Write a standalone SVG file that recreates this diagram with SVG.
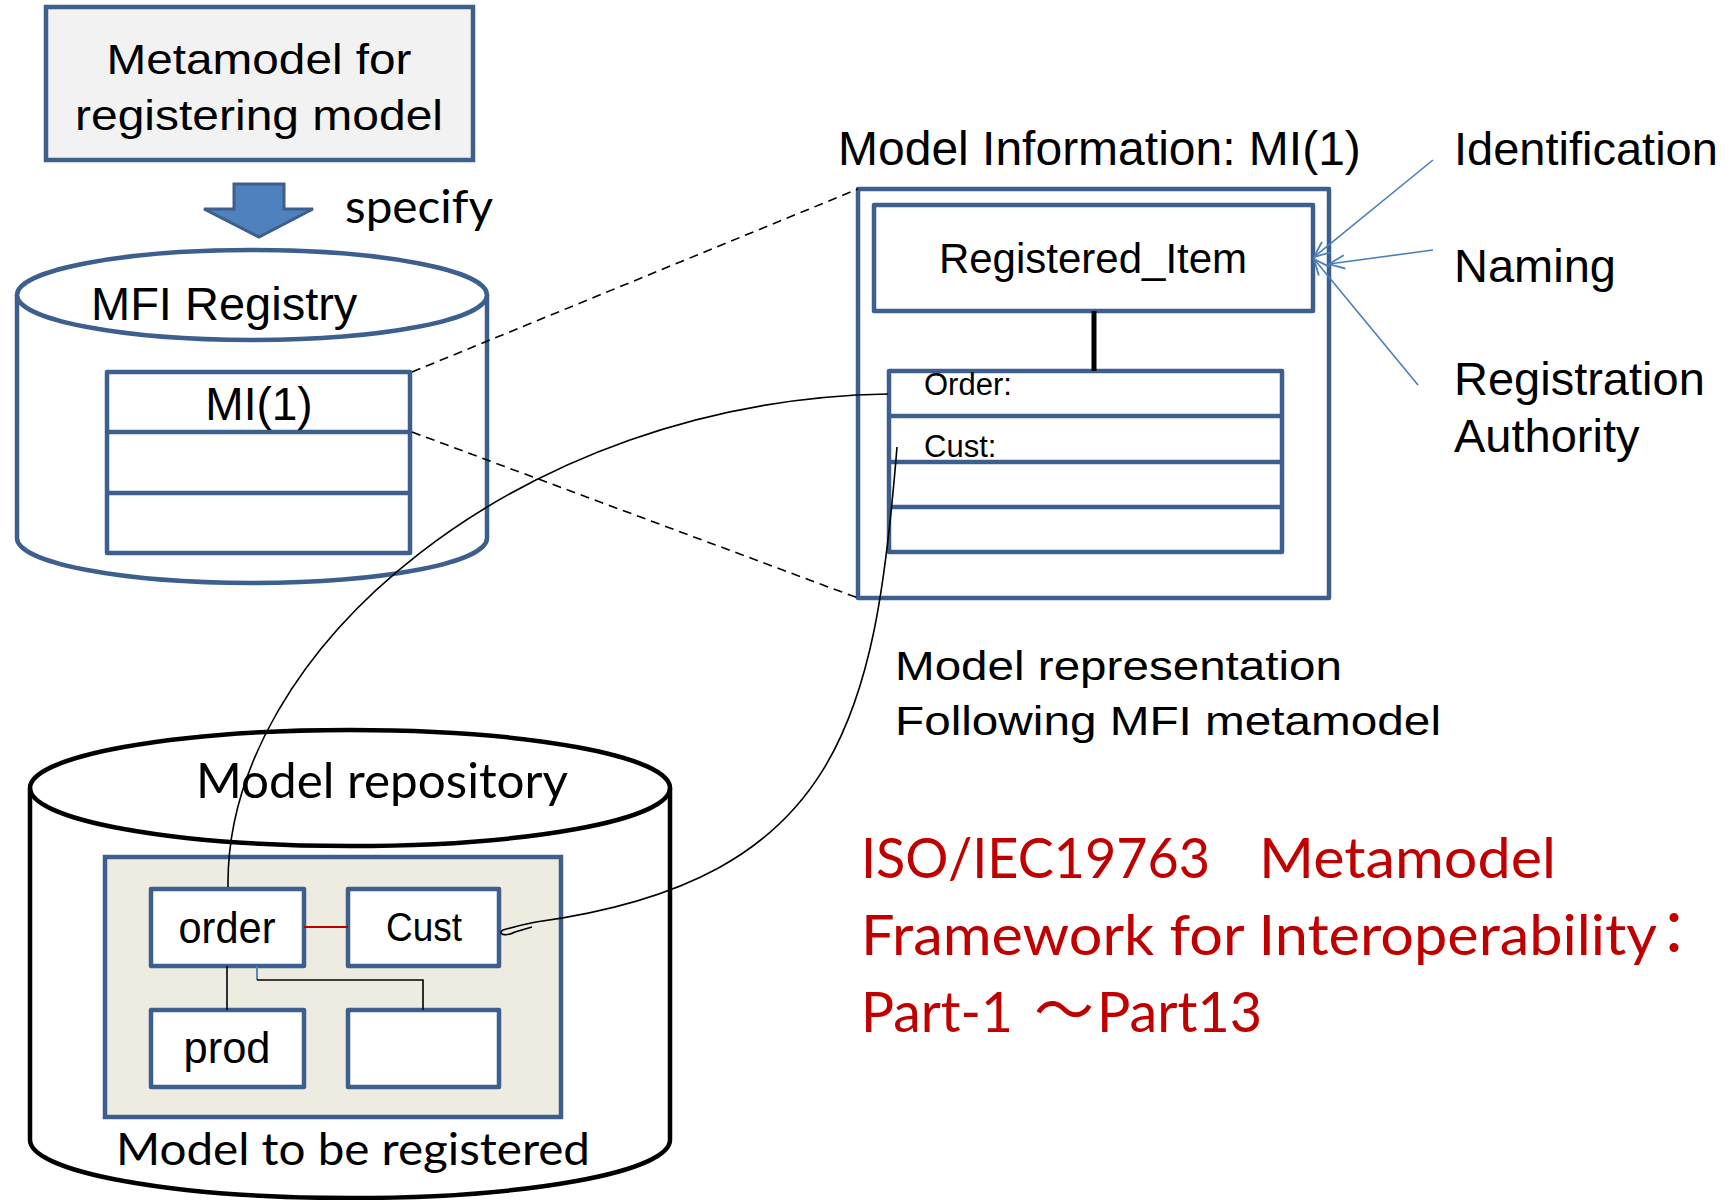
<svg xmlns="http://www.w3.org/2000/svg" width="1735" height="1200" viewBox="0 0 1735 1200">
<style>
.bl{stroke:#3c5f8e;stroke-width:4.5;fill:#ffffff;stroke-linejoin:round}
.ar{font-family:"Liberation Sans",Arial,sans-serif;fill:#000000}
.ca{font-family:Lato,"Noto Sans CJK JP",sans-serif;fill:#000000}
.red{font-family:Lato,"Noto Sans CJK JP",sans-serif;fill:#c00000;font-size:56px}
.cjk{font-family:"Noto Sans CJK JP",sans-serif;fill:#c00000;font-size:60px}
.mid{text-anchor:middle}
.bluearrow{stroke:#4a7ebb;stroke-width:1.6;fill:none;marker-end:url(#vhead)}
.thin{stroke:#000000;stroke-width:1.6;fill:none}
.dash{stroke:#000000;stroke-width:1.6;fill:none;stroke-dasharray:9 6}
</style>
<defs>
<marker id="vhead" markerUnits="userSpaceOnUse" markerWidth="18" markerHeight="18" viewBox="0 0 16 16" refX="15" refY="8" orient="auto">
<path d="M1,2 L15,8 L1,14" fill="none" stroke="#4a7ebb" stroke-width="1.6"/>
</marker>
</defs>
<rect width="1735" height="1200" fill="#ffffff"/>

<g id="metamodel-box">
<rect x="46" y="7" width="427" height="153" fill="#f2f2f2" stroke="#3c5f8e" stroke-width="4.5"/>
<text class="ar mid" x="259" y="74" font-size="42" textLength="305" lengthAdjust="spacingAndGlyphs">Metamodel for</text>
<text class="ar mid" x="259" y="130" font-size="42" textLength="368" lengthAdjust="spacingAndGlyphs">registering model</text>
</g>

<g id="specify-arrow">
<polygon points="234,184 284,184 284,209 313,209 259,237 204,209 234,209" fill="#4f81bd" stroke="#3c5f8e" stroke-width="3" stroke-linejoin="miter"/>
<text class="ca" x="345" y="223" font-size="47" textLength="148" lengthAdjust="spacingAndGlyphs">specify</text>
</g>

<g id="mfi-registry">
<path class="bl" d="M17,295 A235,45 0 0,1 487,295 L487,538 A235,45 0 0,1 17,538 Z"/>
<path class="bl" d="M17,295 A235,45 0 0,0 487,295" fill="none"/>
<text class="ar" x="91" y="320" font-size="47">MFI Registry</text>
</g>

<g id="mi1-record">
<rect class="bl" x="107" y="372" width="303" height="181"/>
<line class="bl" x1="107" y1="432" x2="410" y2="432"/>
<line class="bl" x1="107" y1="493" x2="410" y2="493"/>
<text class="ar mid" x="259" y="420" font-size="46">MI(1)</text>
</g>

<g id="model-information">
<text class="ar" x="838" y="165" font-size="48">Model Information: MI(1)</text>
<rect class="bl" x="858" y="189" width="471" height="409"/>
</g>

<g id="registered-item">
<rect class="bl" x="874" y="205" width="439" height="106"/>
<text class="ar mid" x="1093" y="273" font-size="42">Registered_Item</text>
</g>

<g id="model-class">
<rect class="bl" x="889" y="371" width="393" height="181"/>
<line class="bl" x1="889" y1="416" x2="1282" y2="416"/>
<line class="bl" x1="889" y1="462" x2="1282" y2="462"/>
<line class="bl" x1="889" y1="507" x2="1282" y2="507"/>
<text class="ar" x="924" y="395" font-size="31">Order:</text>
<text class="ar" x="924" y="457" font-size="31">Cust:</text>
</g>

<g id="labels-right">
<text class="ar" x="1454" y="165" font-size="47">Identification</text>
<text class="ar" x="1454" y="282" font-size="47">Naming</text>
<text class="ar" x="1454" y="395" font-size="47">Registration</text>
<text class="ar" x="1454" y="452" font-size="47">Authority</text>
</g>

<g id="model-representation-label">
<text class="ar" x="895" y="680" font-size="41" textLength="447" lengthAdjust="spacingAndGlyphs">Model representation</text>
<text class="ar" x="895" y="735" font-size="41" textLength="546" lengthAdjust="spacingAndGlyphs">Following MFI metamodel</text>
</g>

<g id="iso-title">
<text class="red" x="861" y="878" textLength="349" lengthAdjust="spacingAndGlyphs">ISO/IEC19763</text>
<text class="red" x="1259" y="878" textLength="297" lengthAdjust="spacingAndGlyphs">Metamodel</text>
<text class="red" x="861" y="955" textLength="796" lengthAdjust="spacingAndGlyphs">Framework for Interoperability</text>
<text class="cjk" x="1644" y="955">：</text>
<text class="red" x="861" y="1032" textLength="152" lengthAdjust="spacingAndGlyphs">Part-1</text>
<text class="cjk" x="1034" y="1032">～</text>
<text class="red" x="1097" y="1032" textLength="165" lengthAdjust="spacingAndGlyphs">Part13</text>
</g>

<g id="model-repository">
<path d="M30,788 A320,58 0 0,1 670,788 L670,1140 A320,58 0 0,1 30,1140 Z" fill="#ffffff" stroke="#000000" stroke-width="4.5"/>
<path d="M30,788 A320,58 0 0,0 670,788" fill="none" stroke="#000000" stroke-width="4.5"/>
<text class="ca" x="196" y="798" font-size="49" textLength="372" lengthAdjust="spacingAndGlyphs">Model repository</text>
<text class="ca" x="116" y="1165" font-size="45" textLength="474" lengthAdjust="spacingAndGlyphs">Model to be registered</text>
</g>

<g id="model-to-be-registered">
<rect x="105" y="857" width="456" height="260" fill="#eeece1" stroke="#3c5f8e" stroke-width="4.5"/>
</g>

<g id="order-node">
<rect class="bl" x="151" y="889" width="153" height="77"/>
<text class="ar mid" x="227" y="943" font-size="44" textLength="97" lengthAdjust="spacingAndGlyphs">order</text>
</g>
<g id="cust-node">
<rect class="bl" x="348" y="889" width="151" height="77"/>
<text class="ar mid" x="424" y="941" font-size="40" textLength="76" lengthAdjust="spacingAndGlyphs">Cust</text>
</g>
<g id="prod-node">
<rect class="bl" x="151" y="1010" width="153" height="77"/>
<text class="ar mid" x="227" y="1063" font-size="44" textLength="87" lengthAdjust="spacingAndGlyphs">prod</text>
</g>
<g id="empty-node">
<rect class="bl" x="348" y="1010" width="151" height="77"/>
</g>

<g id="connectors">
<line x1="304" y1="927" x2="348" y2="927" stroke="#c00000" stroke-width="2"/>
<line class="thin" x1="227" y1="966" x2="227" y2="1010"/>
<line x1="257" y1="966" x2="257" y2="980" stroke="#4a7ebb" stroke-width="1.8"/>
<polyline class="thin" points="257,980 423,980 423,1010"/>
<line x1="1094" y1="311" x2="1094" y2="371" stroke="#000000" stroke-width="5"/>
<line class="dash" x1="412" y1="372" x2="858" y2="189"/>
<line class="dash" x1="412" y1="432" x2="858" y2="598"/>
<path class="thin" d="M228,887 C225,650 520,400 888,394"/>
<path class="thin" d="M897,447 C875,720 840,880 536,922 C520,925 510,928 503,930 C497,934 505,937 515,932 L532,927"/>
<line class="bluearrow" x1="1433" y1="160" x2="1314" y2="257"/>
<line class="bluearrow" x1="1433" y1="250" x2="1329" y2="264"/>
<line class="bluearrow" x1="1418" y1="385" x2="1314" y2="259"/>
</g>
</svg>
